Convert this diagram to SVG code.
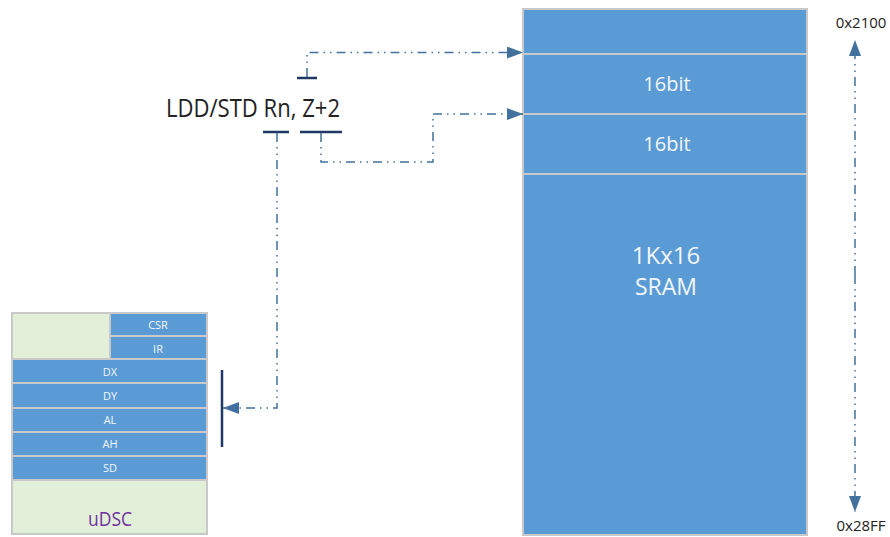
<svg xmlns="http://www.w3.org/2000/svg" width="890" height="537" viewBox="0 0 890 537">
<defs>
<style>
.blk{fill:#5b9bd5;stroke:#c9c9c9;stroke-width:2}
.grn{fill:#e2efd9;stroke:#c9c9c9;stroke-width:2}
.wt{fill:#f2f6fb;font-family:"Open Sans","Liberation Sans",sans-serif;text-anchor:middle}
.reg{font-size:11px}
.conn{fill:none;stroke:#41719c;stroke-width:1.5;stroke-dasharray:9 5 1.5 5 1.5 5}
.bar{stroke:#1f3864;stroke-width:2.5;fill:none}
.lbl{font-family:"Open Sans","Liberation Sans",sans-serif;fill:#222}
</style>
<marker id="ah" markerWidth="16" markerHeight="12" refX="16" refY="6" orient="auto" markerUnits="userSpaceOnUse">
<path d="M0,0 L16,6 L0,12 Z" fill="#41719c"/>
</marker>
</defs>

<g id="sram">
<rect class="blk" x="523" y="9" width="284" height="526"/>
<line x1="523" y1="54" x2="807" y2="54" stroke="#c9c9c9" stroke-width="2"/>
<line x1="523" y1="114" x2="807" y2="114" stroke="#c9c9c9" stroke-width="2"/>
<line x1="523" y1="174" x2="807" y2="174" stroke="#c9c9c9" stroke-width="2"/>
<text class="wt" x="667" y="91" font-size="20">16bit</text>
<text class="wt" x="667" y="151" font-size="20">16bit</text>
<text class="wt" x="666" y="264" font-size="24">1Kx16</text>
<text class="wt" x="666" y="295" font-size="23">SRAM</text>
</g>

<g id="udsc">
<rect class="grn" x="12" y="313" width="195" height="221"/>
<rect class="blk" x="110" y="313" width="97" height="23"/>
<rect class="blk" x="110" y="336" width="97" height="23"/>
<rect class="blk" x="12" y="359" width="195" height="24"/>
<rect class="blk" x="12" y="383" width="195" height="25"/>
<rect class="blk" x="12" y="408" width="195" height="24"/>
<rect class="blk" x="12" y="432" width="195" height="24"/>
<rect class="blk" x="12" y="456" width="195" height="24"/>
<text class="wt reg" x="158" y="329">CSR</text>
<text class="wt reg" x="158" y="353">IR</text>
<text class="wt reg" x="110" y="376">DX</text>
<text class="wt reg" x="110" y="400">DY</text>
<text class="wt reg" x="110" y="424">AL</text>
<text class="wt reg" x="110" y="448">AH</text>
<text class="wt reg" x="110" y="472">SD</text>
<text x="110" y="526" font-size="20" fill="#7030a0" text-anchor="middle" font-family="'Open Sans','Liberation Sans',sans-serif" textLength="44" lengthAdjust="spacingAndGlyphs">uDSC</text>
</g>

<g id="instr">
<text class="lbl" x="166" y="117" font-size="25" textLength="174" lengthAdjust="spacingAndGlyphs">LDD/STD Rn, Z+2</text>
</g>

<g id="addr-top"><text class="lbl" x="861" y="28" font-size="15" text-anchor="middle">0x2100</text></g>
<g id="addr-bot"><text class="lbl" x="861" y="531" font-size="15" text-anchor="middle">0x28FF</text></g>

<g id="connectors">
<line class="bar" x1="297" y1="78" x2="317" y2="78"/>
<line class="bar" x1="263" y1="132" x2="289" y2="132"/>
<line class="bar" x1="300" y1="132" x2="342" y2="132"/>
<line class="bar" x1="222" y1="370" x2="222" y2="447"/>
<path class="conn" d="M307,77 V52.5 H523" marker-end="url(#ah)"/>
<path class="conn" d="M321,133 V162 H433 V114 H523" marker-end="url(#ah)"/>
<path class="conn" d="M277,133 V408 H223" marker-end="url(#ah)"/>
<path class="conn" d="M855,275 V40" marker-end="url(#ah)"/>
<path class="conn" d="M855,275 V512" marker-end="url(#ah)"/>
</g>
</svg>
